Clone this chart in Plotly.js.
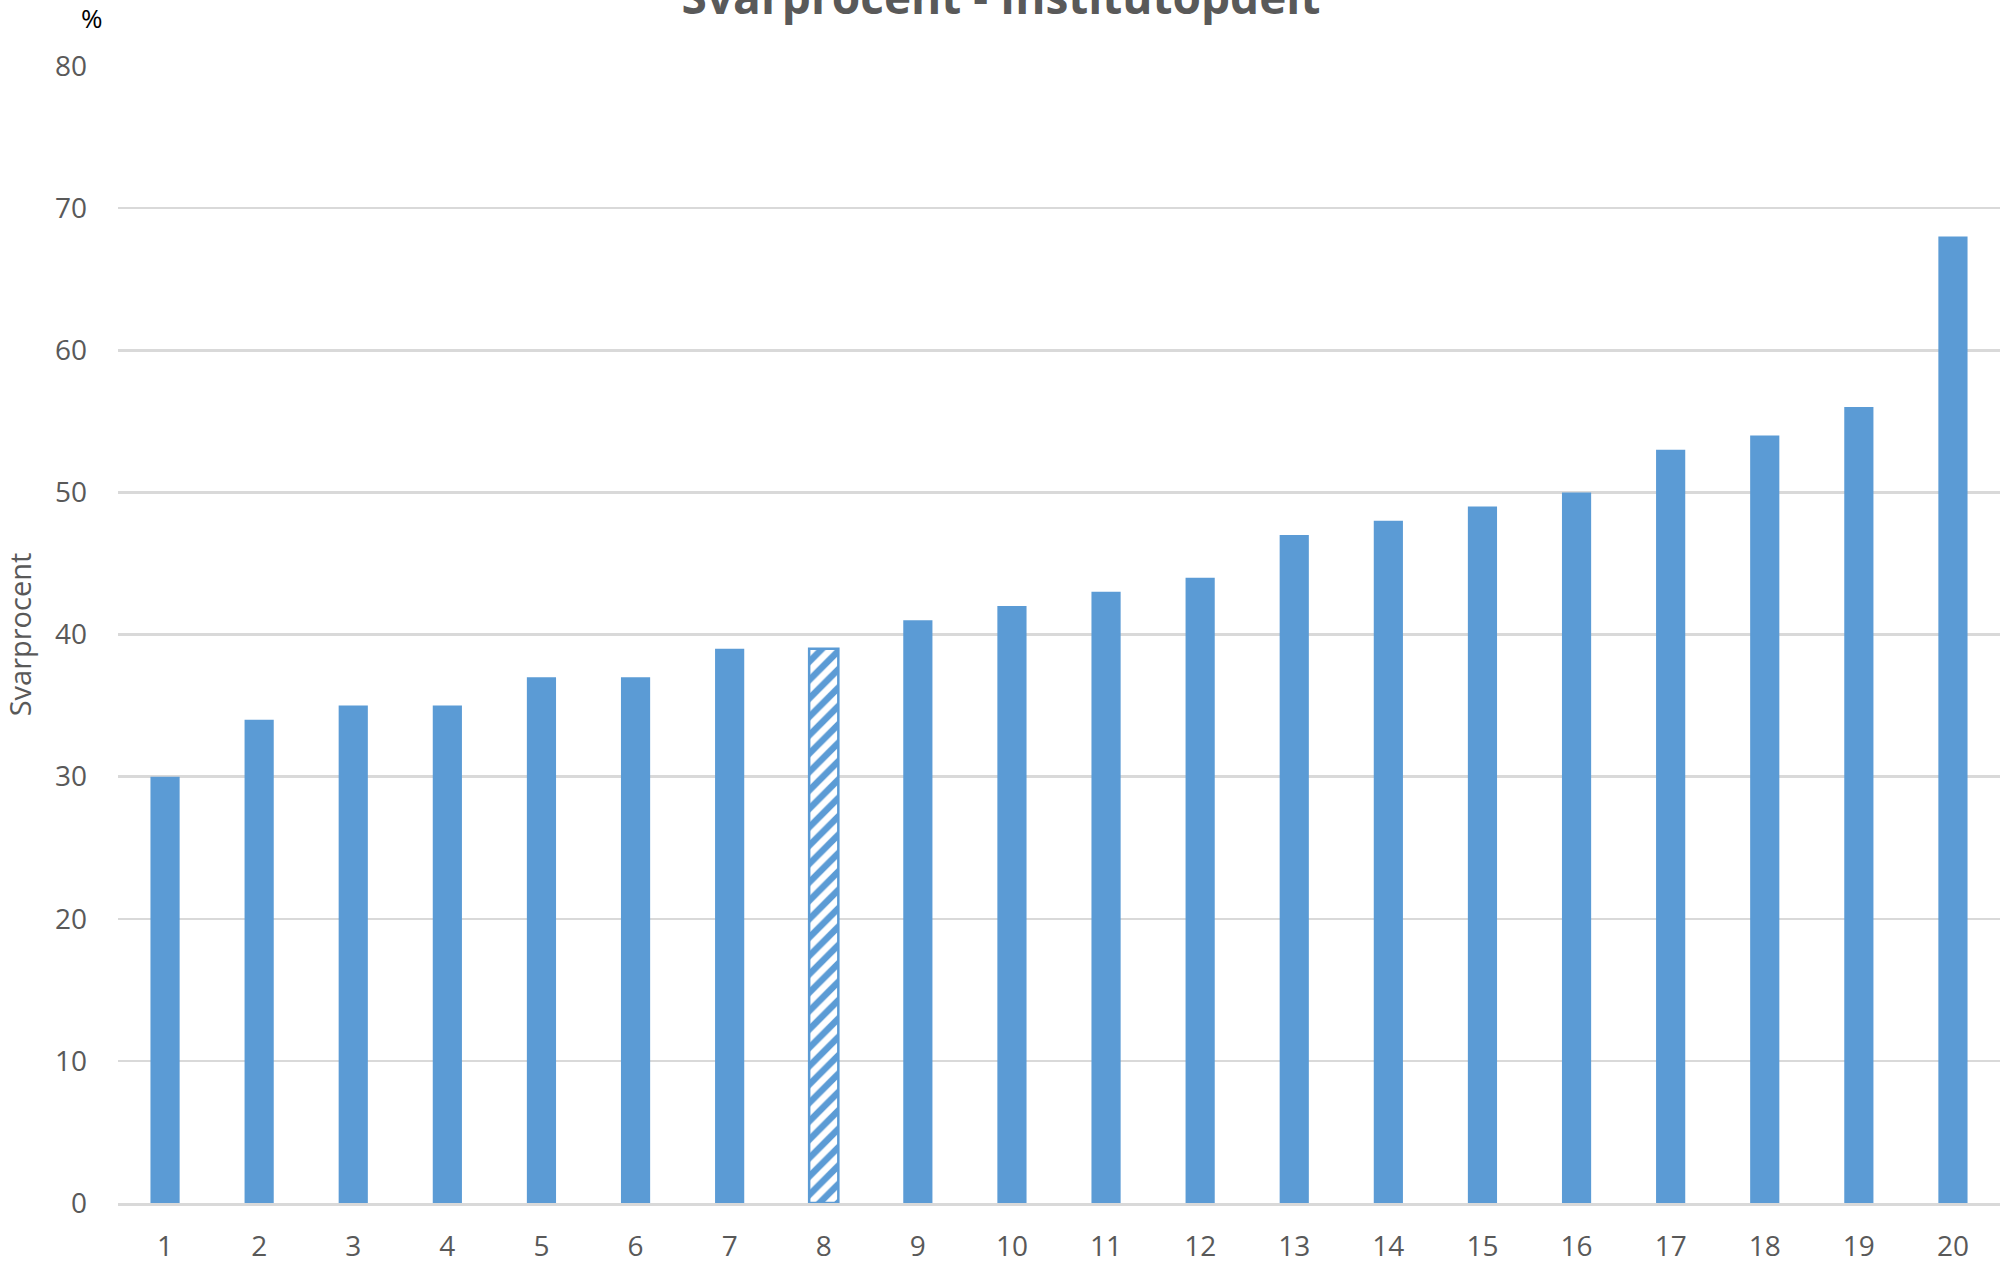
<!DOCTYPE html>
<html>
<head>
<meta charset="utf-8">
<script src="https://cdn.plot.ly/plotly-3.0.1.min.js"></script>
<style>html,body{margin:0;padding:0;background:#fff;}#chart{width:2002px;height:1266px;}</style>
</head>
<body>
<div id="chart"></div>
<script>
// Data
const categories = ['1','2','3','4','5','6','7','8','9','10','11','12','13','14','15','16','17','18','19','20'];
const svarprocent = [30, 34, 35, 35, 37, 37, 39, 39, 41, 42, 43, 44, 47, 48, 49, 50, 53, 54, 56, 68];
const highlightIndex = 7; // hatched bar (institute 8)
const yTicks = [0, 10, 20, 30, 40, 50, 60, 70, 80];
const chartTitle = 'Svarprocent - Institutopdelt';
const yTitle = 'Svarprocent';
const unitLabel = '%';

const barColor = '#5b9bd5';
const shapes = categories.map((c, i) => i === highlightIndex ? '/' : '');
const lineWidths = categories.map((c, i) => i === highlightIndex ? 2.5 : 0);

const trace = {
  type: 'bar',
  x: categories,
  y: svarprocent,
  marker: {
    color: barColor,
    line: { color: barColor, width: lineWidths },
    pattern: { shape: shapes, fillmode: 'replace', size: 13, solidity: 0.5, fgcolor: barColor, bgcolor: '#ffffff' }
  },
  hoverinfo: 'skip'
};

const layout = {
  width: 2002,
  height: 1266,
  margin: { l: 118, r: 2, t: 66, b: 63, pad: 0 },
  paper_bgcolor: '#ffffff',
  plot_bgcolor: '#ffffff',
  showlegend: false,
  bargap: 0.69,
  font: { family: 'Open Sans, sans-serif', size: 28, color: '#595959' },
  title: {
    text: '<b>' + chartTitle + '</b>',
    font: { family: 'Open Sans, sans-serif', size: 46, color: '#595959' },
    x: 0.5, xref: 'container', xanchor: 'center',
    y: 1 - 14 / 1266, yref: 'container', yanchor: 'bottom'
  },
  xaxis: {
    type: 'category',
    showgrid: false,
    showline: true,
    linecolor: '#d9d9d9',
    linewidth: 2.5,
    ticks: '',
    ticklabelstandoff: 17,
    tickfont: { size: 28, color: '#595959' },
    zeroline: false
  },
  yaxis: {
    range: [0, 80],
    tickvals: yTicks,
    showgrid: true,
    gridcolor: '#d9d9d9',
    gridwidth: 2.5,
    zeroline: false,
    showline: false,
    ticks: '',
    ticklabelstandoff: 30,
    tickfont: { size: 28, color: '#595959' },
    title: { text: yTitle, font: { size: 29, color: '#595959' }, standoff: 16 }
  },
  annotations: [{
    text: unitLabel,
    xref: 'paper', yref: 'paper',
    x: (92 - 118) / 1882, y: (1203 - 18) / 1137,
    xanchor: 'center', yanchor: 'middle',
    showarrow: false,
    font: { family: 'Open Sans, sans-serif', size: 26, color: '#000000' }
  }]
};

Plotly.newPlot('chart', [trace], layout, { staticPlot: true, displayModeBar: false });
</script>
</body>
</html>
